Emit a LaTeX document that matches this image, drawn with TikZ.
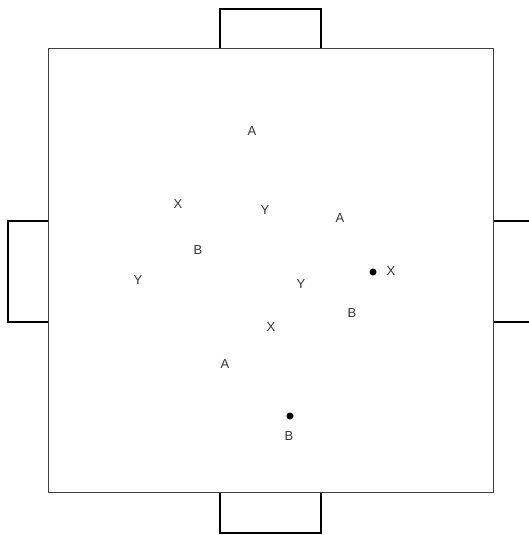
\documentclass[tikz,border=0pt]{standalone}
\usepackage{fontspec}
\setmainfont{Liberation Sans}
\begin{document}
\begin{tikzpicture}[x=1pt,y=-1pt,
  field/.style={draw=black!75,line width=0.9pt},
  tab/.style={draw=black,line width=1.5pt},
  lbl/.style={font=\fontsize{13}{13}\selectfont,text=black!80,inner sep=0pt},
  dot/.style={circle,fill=black,inner sep=0pt,minimum size=7pt}]
\useasboundingbox (0,0) rectangle (528,535);
\draw[tab] (220,48) -- (220,9) -- (321,9) -- (321,48);
\draw[tab] (220,492) -- (220,533) -- (321,533) -- (321,492);
\draw[tab] (48,221) -- (8,221) -- (8,322) -- (48,322);
\draw[tab] (493,221) -- (529,221);
\draw[tab] (493,322) -- (529,322);
\draw[field] (48,48) rectangle (493,492);
\node[lbl] (a1) at (252,131) {A};
\node[lbl] (x1) at (178,204) {X};
\node[lbl] (y1) at (265,210) {Y};
\node[lbl] (a2) at (340,218) {A};
\node[lbl] (b1) at (198,250) {B};
\node[lbl] (y2) at (138,280) {Y};
\node[lbl] (y3) at (301,284) {Y};
\node[dot] (d1) at (373,272) {};
\node[lbl] (x2) at (391,271) {X};
\node[lbl] (b2) at (352,313) {B};
\node[lbl] (x3) at (271,327) {X};
\node[lbl] (a3) at (225,364) {A};
\node[dot] (d2) at (290,416) {};
\node[lbl] (b3) at (289,436) {B};
\end{tikzpicture}
\end{document}
